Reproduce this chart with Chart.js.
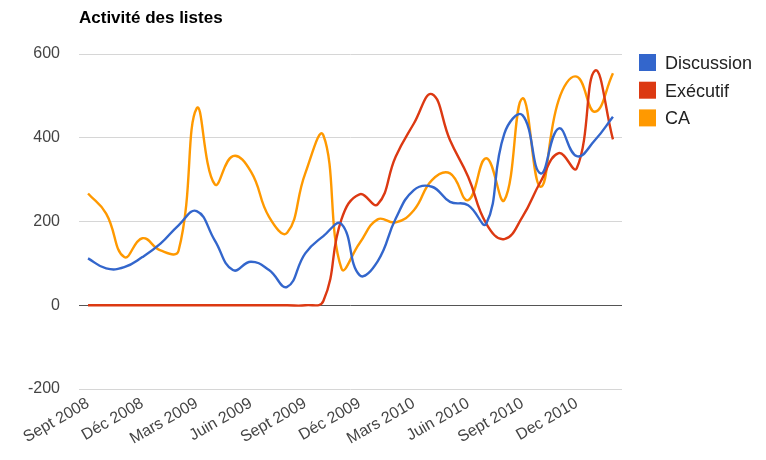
<!DOCTYPE html>
<html lang="fr">
<head>
    <meta charset="UTF-8">
    <title>Activité des listes</title>
    <script src="https://cdn.jsdelivr.net/npm/chart.js"></script>
    <style>
        body { margin: 0; background: #fff; }
        #grafico { display: block; }
    </style>
</head>
<body>
    <canvas id="grafico" width="766" height="460"></canvas>

<script>
    // mois (un point par mois, de sept 2008 a fevr 2011)
    var mois = ['Sept 2008', 'Oct 2008', 'Nov 2008', 'Déc 2008', 'Janv 2009', 'Févr 2009',
        'Mars 2009', 'Avr 2009', 'Mai 2009', 'Juin 2009', 'Juil 2009', 'Août 2009',
        'Sept 2009', 'Oct 2009', 'Nov 2009', 'Déc 2009', 'Janv 2010', 'Févr 2010',
        'Mars 2010', 'Avr 2010', 'Mai 2010', 'Juin 2010', 'Juil 2010', 'Août 2010',
        'Sept 2010', 'Oct 2010', 'Nov 2010', 'Dec 2010', 'Janv 2011', 'Févr 2011'];

    var discussion = [112, 88, 91, 115, 147, 191, 225, 155, 84, 104, 84, 44, 124, 165, 194,
        72, 105, 207, 275, 283, 247, 239, 195, 410, 454, 315, 422, 356, 394, 450];
    var executif = [0, 0, 0, 0, 0, 0, 0, 0, 0, 0, 0, 0, 0, 10, 205,
        265, 241, 355, 434, 504, 394, 307, 195, 158, 211, 295, 363, 327, 560, 396];
    var ca = [267, 219, 115, 160, 131, 130, 470, 289, 356, 319, 211, 173, 315, 406, 88,
        148, 205, 198, 227, 299, 315, 251, 351, 251, 494, 283, 490, 546, 462, 554];

    var ticksY = [-200, 0, 200, 400, 600];

    var titre = 'Activité des listes';
    var fonte = 'Arial, "Liberation Sans", sans-serif';

    // titre et legende dessines a la main pour coller a la mise en page
    var decor = {
        id: 'decor',
        afterDraw: function (chart) {
            var ctx = chart.ctx;
            ctx.save();
            ctx.fillStyle = '#000';
            ctx.font = 'bold 17px ' + fonte;
            ctx.textAlign = 'left';
            ctx.textBaseline = 'alphabetic';
            ctx.fillText(titre, chart.chartArea.left, 23);

            ctx.font = '18px ' + fonte;
            chart.data.datasets.forEach(function (ds, i) {
                var y = 54 + i * 27.7;
                ctx.fillStyle = ds.borderColor;
                ctx.fillRect(639, y, 17, 17);
                ctx.fillStyle = '#222';
                ctx.fillText(ds.label, 665, y + 15);
            });
            ctx.restore();
        }
    };

    var grafico = document.getElementById('grafico');

    var chartListes = new Chart(grafico, {
        type: 'line',
        data: {
            labels: mois,
            datasets: [{
                label: 'Discussion',
                data: discussion,
                borderColor: '#3366cc',
            }, {
                label: 'Exécutif',
                data: executif,
                borderColor: '#dc3912',
            }, {
                label: 'CA',
                data: ca,
                borderColor: '#ff9900',
            }]
        },
        options: {
            responsive: false,
            animation: false,
            layout: { padding: { left: 0, top: 54, right: 144, bottom: 0 } },
            elements: {
                line: { borderWidth: 2.4, tension: 0.45, fill: false },
                point: { radius: 0 }
            },
            plugins: {
                legend: { display: false },
                title: { display: false },
                tooltip: { enabled: false }
            },
            scales: {
                x: {
                    offset: true,
                    grid: { display: false, drawTicks: false },
                    border: { display: false },
                    afterFit: function (scale) { scale.height = 71; },
                    ticks: {
                        autoSkip: false,
                        minRotation: 30,
                        maxRotation: 30,
                        padding: 5,
                        color: '#444',
                        font: { family: fonte, size: 16 },
                        callback: function (value, index) {
                            return index % 3 === 0 ? this.getLabelForValue(value) : '';
                        }
                    }
                },
                y: {
                    min: ticksY[0],
                    max: ticksY[ticksY.length - 1],
                    afterFit: function (scale) { scale.width = 79; },
                    afterBuildTicks: function (scale) {
                        scale.ticks = ticksY.map(function (v) { return { value: v }; });
                    },
                    border: { display: false },
                    grid: {
                        drawTicks: false,
                        lineWidth: 1,
                        color: function (c) { return c.tick && c.tick.value === 0 ? '#555' : '#d6d6d6'; }
                    },
                    ticks: {
                        padding: 19,
                        color: '#444',
                        font: { family: fonte, size: 16 }
                    }
                }
            }
        },
        plugins: [decor]
    });
</script>
</body>
</html>
